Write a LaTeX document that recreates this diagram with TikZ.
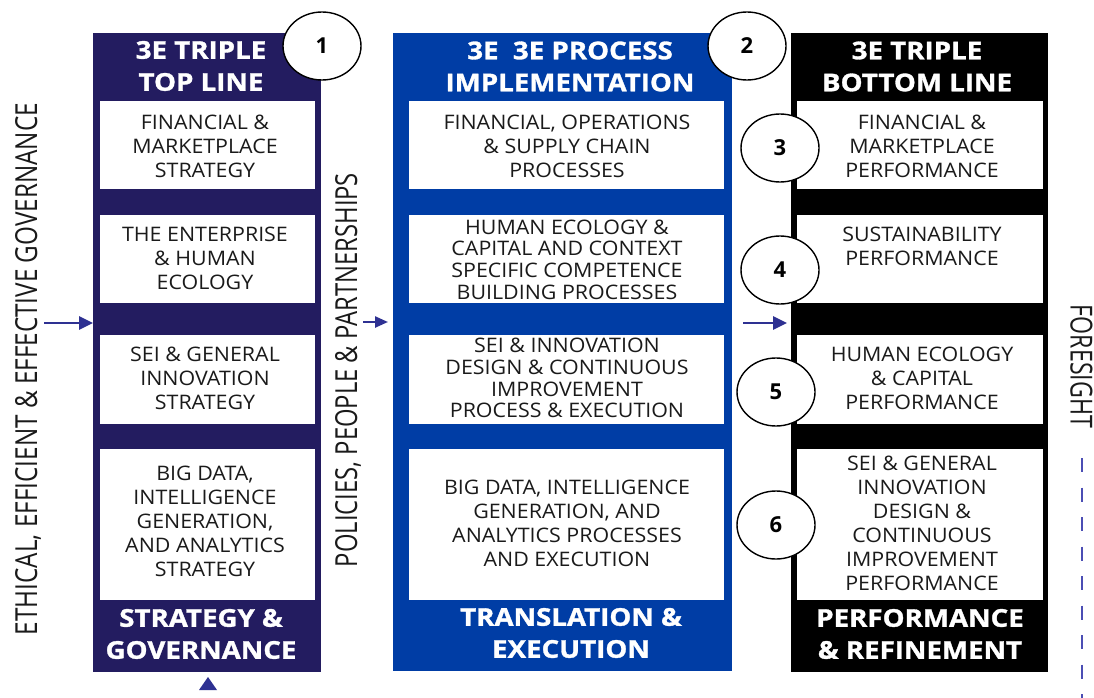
\documentclass[tikz,border=0pt]{standalone}
\usepackage{fontspec}
\usepackage{graphicx}
\setmainfont{Open Sans}
\newfontfamily\bodyf{Open Sans}[FakeStretch=1.07]
\newfontfamily\headf{Open Sans}[FakeStretch=1.13, FakeBold=1.3]
\usetikzlibrary{arrows.meta,shapes.geometric}
\definecolor{navy}{HTML}{231C60}
\definecolor{royal}{HTML}{003DA5}
\definecolor{arrowc}{HTML}{2E3192}
\definecolor{dashc}{HTML}{4B4EB4}
\definecolor{ink}{HTML}{1A1A1A}
\begin{document}
\begin{tikzpicture}[x=1pt,y=-1pt,
  column/.style={anchor=north west, inner sep=0pt, outer sep=0pt, draw=none},
  wbox/.style={anchor=north west, fill=white, inner sep=0pt, outer sep=0pt},
  body/.style={font=\bodyf\fontsize{20pt}{24pt}\selectfont, text=ink, align=center, inner sep=0pt},
  tight/.style={font=\bodyf\fontsize{20pt}{21.7pt}\selectfont},
  head/.style={font=\headf\bfseries\fontsize{24.5pt}{32pt}\selectfont, text=white, align=center, inner sep=0pt},
  num/.style={ellipse, draw=black, line width=1.4pt, fill=white, minimum width=78pt, minimum height=68pt, inner sep=0pt,
    font=\bfseries\fontsize{22pt}{22pt}\selectfont},
  flow/.style={draw=arrowc, line width=2.6pt, -{Triangle[length=14pt,width=13pt]}},
  side/.style={inner sep=0pt, text=ink},
]
\useasboundingbox (0,0) rectangle (1094,698);
\fill[white] (0,0) rectangle (1094,698);

% columns
\node[column, fill=navy, minimum width=228pt, minimum height=639pt] (col1) at (93,33) {};
\node[column, fill=royal, minimum width=339pt, minimum height=638pt] (col2) at (393,33) {};
\node[column, fill=black, minimum width=257pt, minimum height=639pt] (col3) at (791,33) {};

% white boxes column 1
\node[wbox, minimum width=215pt, minimum height=88pt] (b11) at (100,101) {};
\node[wbox, minimum width=215pt, minimum height=88pt] (b12) at (100,215) {};
\node[wbox, minimum width=215pt, minimum height=89pt] (b13) at (100,335) {};
\node[wbox, minimum width=215pt, minimum height=151pt] (b14) at (100,449) {};
% white boxes column 2
\node[wbox, minimum width=315pt, minimum height=88pt] (b21) at (409,101) {};
\node[wbox, minimum width=315pt, minimum height=88pt] (b22) at (409,215) {};
\node[wbox, minimum width=315pt, minimum height=89pt] (b23) at (409,335) {};
\node[wbox, minimum width=315pt, minimum height=151pt] (b24) at (409,449) {};
% white boxes column 3
\node[wbox, minimum width=246pt, minimum height=88pt] (b31) at (797,101) {};
\node[wbox, minimum width=246pt, minimum height=88pt] (b32) at (797,215) {};
\node[wbox, minimum width=246pt, minimum height=89pt] (b33) at (797,335) {};
\node[wbox, minimum width=246pt, minimum height=151pt] (b34) at (797,449) {};

% texts column 1
\node[body] (t11) at (205,146.5) {FINANCIAL \&\\MARKETPLACE\\STRATEGY};
\node[body] (t12) at (205,258) {THE ENTERPRISE\\\& HUMAN\\ECOLOGY};
\node[body] (t13) at (205,378.5) {SEI \& GENERAL\\INNOVATION\\STRATEGY};
\node[body] (t14) at (205,521) {BIG DATA,\\INTELLIGENCE\\GENERATION,\\AND ANALYTICS\\STRATEGY};
% texts column 2
\node[body] (t21) at (567,146) {FINANCIAL, OPERATIONS\\\& SUPPLY CHAIN\\PROCESSES};
\node[body, tight] (t22) at (567,259.5) {HUMAN ECOLOGY \&\\CAPITAL AND CONTEXT\\SPECIFIC COMPETENCE\\BUILDING PROCESSES};
\node[body, tight] (t23) at (567,378) {SEI \& INNOVATION\\DESIGN \& CONTINUOUS\\IMPROVEMENT\\PROCESS \& EXECUTION};
\node[body] (t24) at (567,523.5) {BIG DATA, INTELLIGENCE\\GENERATION, AND\\ANALYTICS PROCESSES\\AND EXECUTION};
% texts column 3
\node[body] (t31) at (922,146.5) {FINANCIAL \&\\MARKETPLACE\\PERFORMANCE};
\node[body] (t32) at (922,246) {SUSTAINABILITY\\PERFORMANCE};
\node[body] (t33) at (922,378.5) {HUMAN ECOLOGY\\\& CAPITAL\\PERFORMANCE};
\node[body] (t34) at (922,523) {SEI \& GENERAL\\INNOVATION\\DESIGN \&\\CONTINUOUS\\IMPROVEMENT\\PERFORMANCE};

% headers and footers
\node[head] (h1) at (201,66) {3E TRIPLE\\TOP LINE};
\node[head] (h2) at (570,66.5) {3E\ \ 3E PROCESS\\IMPLEMENTATION};
\node[head] (h3) at (917,66.5) {3E TRIPLE\\BOTTOM LINE};
\node[head] (f1) at (201,634) {STRATEGY \&\\GOVERNANCE};
\node[head] (f2) at (571,633) {TRANSLATION \&\\EXECUTION};
\node[head] (f3) at (920,634) {PERFORMANCE\\\& REFINEMENT};

% numbered ellipses
\node[num] (n1) at (322,46) {1};
\node[num] (n2) at (747,46) {2};
\node[num] (n3) at (780,148) {3};
\node[num] (n4) at (780,270) {4};
\node[num] (n5) at (776,392) {5};
\node[num] (n6) at (776,525) {6};

% side labels
\node[side, rotate=90] (gov) at (26,369)
  {\raisebox{0pt}[22pt][0pt]{\resizebox{532pt}{22pt}{\bodyf ETHICAL, EFFICIENT \& EFFECTIVE GOVERNANCE}}};
\node[side, rotate=90] (ppp) at (346,370)
  {\raisebox{0pt}[22pt][0pt]{\resizebox{394pt}{22pt}{\bodyf POLICIES, PEOPLE \& PARTNERSHIPS}}};
\node[side, rotate=-90] (fs) at (1081.5,366.5)
  {\raisebox{0pt}[22pt][0pt]{\resizebox{123pt}{22pt}{\bodyf FORESIGHT}}};

% arrows
\coordinate (a1) at (44,323);
\coordinate (a2) at (363,322);
\coordinate (a3) at (743,323);
\draw[flow] (a1) -- (a1 -| col1.west);
\draw[draw=arrowc, line width=2.4pt, -{Triangle[length=13pt,width=11pt]}, shorten >=5pt] (a2) -- (a2 -| col2.west);
\draw[flow, shorten >=4pt] (a3) -- (a3 -| col3.west);
\fill[arrowc] (199,690) -- (217,690) -- (208,677) -- cycle;

% dashed foresight line
\coordinate (d1) at (1082,458);
\coordinate (d2) at (1082,698);
\draw[dashc, line width=2pt, dash pattern=on 14pt off 15.5pt] (d1) -- (d2);
\end{tikzpicture}
\end{document}
